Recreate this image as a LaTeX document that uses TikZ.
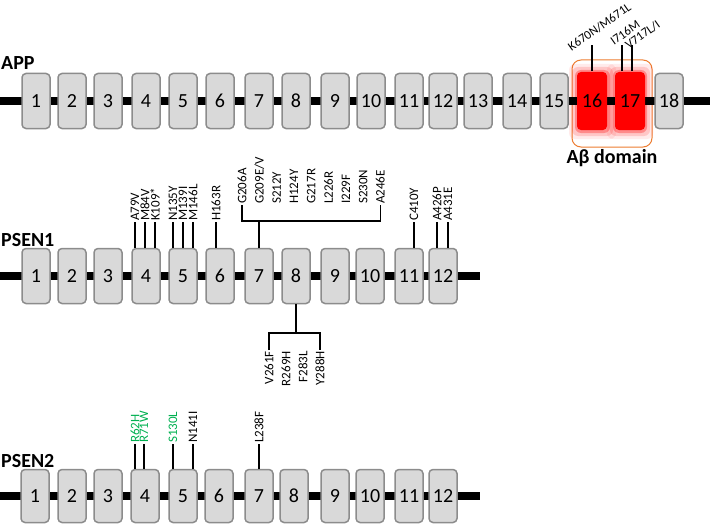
\documentclass[tikz,border=0pt]{standalone}
\usepackage{fontspec}
\setmainfont{Carlito}
\definecolor{exonfill}{HTML}{D9D9D9}
\definecolor{exonline}{HTML}{8C8C8C}
\definecolor{mutgreen}{HTML}{00B050}
\definecolor{domorange}{HTML}{ED7D31}
\tikzset{
  exon/.style={draw=exonline, fill=exonfill, line width=1.5pt, rounded corners=4pt,
    minimum width=28pt, minimum height=55pt, inner sep=0pt, font=\fontsize{20}{24}\selectfont},
  redexon/.style={exon, draw=none, fill=red, minimum width=30pt, minimum height=58pt},
  gene/.style={line width=8pt},
  genename/.style={anchor=base west, inner sep=0pt, font=\fontsize{20}{24}\selectfont\bfseries},
  mut/.style={rotate=90, anchor=west, inner sep=1pt, font=\fontsize{13}{15}\selectfont},
  mutdown/.style={mut, anchor=east},
  mutapp/.style={rotate=35, anchor=south west, inner sep=0pt, font=\fontsize{12.5}{15}\selectfont},
  tick/.style={line width=1.2pt}
}
\begin{document}
\begin{tikzpicture}[x=1pt,y=-1pt]
\useasboundingbox (0,0) rectangle (710,527);
\def\yA{101} \def\yB{276} \def\yC{496}
% APP
\node[genename] (appname) at (1,70) {APP};
\coordinate (appL) at (0,\yA); \coordinate (appR) at (710,\yA);
\draw[domorange, line width=1pt, rounded corners=9pt, fill=white] (572,60) rectangle (652,147);
\foreach \g/\o in {8/0.08,5/0.15,2/0.3} {
  \fill[red, opacity=\o, rounded corners=6pt] (577-\g,72-\g) rectangle (608+\g,131+\g);
  \fill[red, opacity=\o, rounded corners=6pt] (615-\g,72-\g) rectangle (645+\g,131+\g);
}
\draw[gene] (appL) -- (appR);
\foreach \x [count=\i] in {36,72,108,146,183,220,259,296,335,371,409,443,478,517,554}
  \node[exon] (app\i) at (\x,\yA) {\i};
\node[redexon] (app16) at (592,\yA) {16};
\node[redexon] (app17) at (630,\yA) {17};
\node[exon] (app18) at (669,\yA) {18};
\node[font=\fontsize{20}{24}\selectfont\bfseries] (abeta) at (612,158) {Aβ domain};
\node[mutapp] (k670n) at (572,52) {K670N/M671L};
\node[mutapp] (i716m) at (614,46) {I716M};
\node[mutapp] (v717l) at (629,50) {V717L/I};
\draw[tick] (app16.north) -- ++(0,-26);
\draw[tick] ([xshift=-8pt]app17.north) -- ++(0,-26);
\draw[tick] ([xshift=2pt]app17.north) -- ++(0,-26);
% PSEN1
\node[genename] (p1name) at (1,246) {PSEN1};
\coordinate (p1L) at (0,\yB); \coordinate (p1R) at (480,\yB);
\draw[gene] (p1L) -- (p1R);
\foreach \x [count=\i] in {36,72,108,146,183,220,259,296,335,370,409,443}
  \node[exon] (pa\i) at (\x,\yB) {\i};
\foreach \x/\n/\t/\b in {135/a79v/A79V/pa4, 145/m84v/M84V/pa4, 155/k109/K109*/pa4,
    173/n135y/N135Y/pa5, 183/m139i/M139I/pa5, 193/m146l/M146L/pa5, 216/h163r/H163R/pa6,
    414/c410y/C410Y/pa11, 437/a426p/A426P/pa12, 448/a431e/A431E/pa12} {
  \node[mut] (\n) at (\x,222) {\t};
  \draw[tick] (\n.west) -- (\n.west |- \b.north);
}
\foreach \t [count=\k] in {G206A,G209E/V,S212Y,H124Y,G217R,L226R,I229F,S230N,A246E}
  \node[mut] (g7\k) at (242+17.3*\k-17.3,205) {\t};
\coordinate (j7) at (259,221);
\draw[tick] (g71.west) |- (g79.west |- j7) -- (g79.west);
\draw[tick] (pa7.north) -- (j7);
\foreach \t/\n [count=\k] in {V261F/v261f,R269H/r269h,F283L/f283l,Y288H/y288h}
  \node[mutdown] (\n) at (252+17*\k,350) {\t};
\coordinate (j8) at (296,333);
\draw[tick] (v261f.east) |- (y288h.east |- j8) -- (y288h.east);
\draw[tick] (pa8.south) -- (j8);
% PSEN2
\node[genename] (p2name) at (1,467) {PSEN2};
\coordinate (p2L) at (0,\yC); \coordinate (p2R) at (480,\yC);
\draw[gene] (p2L) -- (p2R);
\foreach \x [count=\i] in {35,72,108,145,183,219,259,294,335,370,409,443}
  \node[exon, minimum height=53pt] (pb\i) at (\x,\yC) {\i};
\foreach \x/\n/\t/\b/\c in {135/r62h/R62H/pb4/mutgreen, 144/r71w/R71W/pb4/mutgreen,
    173/s130l/S130L/pb5/mutgreen, 193/n141i/N141I/pb5/black, 259/l238f/L238F/pb7/black} {
  \node[mut, text=\c] (\n) at (\x,444) {\t};
  \draw[tick] (\n.west) -- (\n.west |- \b.north);
}
\end{tikzpicture}
\end{document}
